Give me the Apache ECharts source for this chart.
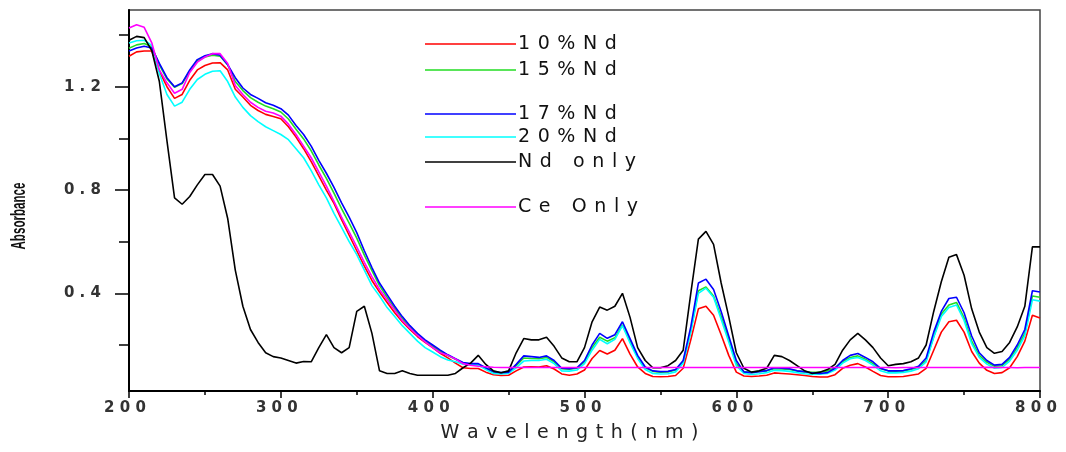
<!DOCTYPE html>
<html>
<head>
<meta charset="utf-8">
<script src="https://cdn.jsdelivr.net/npm/echarts@6/dist/echarts.min.js"></script>
<style>html,body{margin:0;padding:0;background:#fff}#c{width:1066px;height:452px}</style>
</head>
<body>
<div id="c"></div>
<script>
// Wavelength grid (nm)
const wavelengths = [
  200,205,210,215,220,225,230,235,240,245,
  250,255,260,265,270,275,280,285,290,295,
  300,305,310,315,320,325,330,335,340,345,
  350,355,360,365,370,375,380,385,390,395,
  400,405,410,415,420,425,430,435,440,445,
  450,455,460,465,470,475,480,485,490,495,
  500,505,510,515,520,525,530,535,540,545,
  550,555,560,565,570,575,580,585,590,595,
  600,605,610,615,620,625,630,635,640,645,
  650,655,660,665,670,675,680,685,690,695,
  700,705,710,715,720,725,730,735,740,745,
  750,755,760,765,770,775,780,785,790,795,
  800
];
// 10%Nd (red)
const nd10 = [
  1.318,1.335,1.338,1.338,1.26,1.20,1.155,1.17,1.225,1.265,
  1.282,1.292,1.293,1.265,1.19,1.16,1.128,1.108,1.093,1.085,
  1.076,1.045,1.005,0.96,0.91,0.855,0.80,0.748,0.685,0.625,
  0.565,0.505,0.45,0.405,0.365,0.325,0.29,0.26,0.233,0.21,
  0.19,0.168,0.15,0.13,0.112,0.109,0.109,0.095,0.085,0.082,
  0.083,0.10,0.115,0.116,0.115,0.12,0.107,0.088,0.083,0.088,
  0.103,0.148,0.179,0.165,0.18,0.225,0.165,0.115,0.09,0.078,
  0.077,0.078,0.082,0.11,0.22,0.34,0.35,0.315,0.24,0.16,
  0.095,0.08,0.078,0.08,0.083,0.092,0.09,0.088,0.085,0.082,
  0.078,0.076,0.076,0.085,0.11,0.122,0.128,0.115,0.098,0.082,
  0.077,0.077,0.078,0.083,0.088,0.11,0.18,0.25,0.29,0.296,
  0.25,0.175,0.13,0.102,0.09,0.093,0.112,0.155,0.215,0.315,
  0.305
];
// 15%Nd (green)
const nd15 = [
  1.349,1.362,1.367,1.355,1.285,1.23,1.198,1.212,1.26,1.30,
  1.315,1.322,1.318,1.285,1.22,1.185,1.158,1.14,1.125,1.115,
  1.102,1.075,1.035,0.998,0.952,0.897,0.845,0.788,0.728,0.672,
  0.614,0.548,0.488,0.43,0.385,0.342,0.303,0.268,0.24,0.215,
  0.195,0.176,0.159,0.145,0.13,0.126,0.125,0.11,0.096,0.092,
  0.094,0.12,0.15,0.148,0.147,0.152,0.135,0.108,0.106,0.11,
  0.135,0.19,0.23,0.215,0.228,0.278,0.215,0.155,0.112,0.098,
  0.095,0.096,0.103,0.135,0.255,0.41,0.425,0.39,0.31,0.222,
  0.128,0.096,0.094,0.098,0.10,0.108,0.107,0.105,0.10,0.096,
  0.094,0.095,0.10,0.112,0.135,0.152,0.158,0.145,0.128,0.108,
  0.10,0.099,0.10,0.105,0.114,0.14,0.232,0.32,0.355,0.365,
  0.305,0.215,0.16,0.133,0.118,0.12,0.145,0.19,0.245,0.39,
  0.385
];
// 17%Nd (blue)
const nd17 = [
  1.338,1.35,1.357,1.35,1.29,1.235,1.20,1.215,1.265,1.305,
  1.32,1.328,1.322,1.285,1.235,1.195,1.17,1.155,1.138,1.128,
  1.115,1.09,1.05,1.015,0.97,0.915,0.865,0.81,0.75,0.695,
  0.635,0.565,0.50,0.44,0.395,0.35,0.31,0.275,0.245,0.22,
  0.20,0.18,0.162,0.147,0.132,0.128,0.128,0.112,0.097,0.093,
  0.095,0.125,0.158,0.155,0.152,0.158,0.14,0.11,0.108,0.112,
  0.14,0.20,0.245,0.226,0.24,0.29,0.225,0.16,0.115,0.10,
  0.097,0.098,0.105,0.14,0.27,0.44,0.455,0.415,0.33,0.235,
  0.14,0.096,0.093,0.097,0.101,0.112,0.11,0.108,0.10,0.097,
  0.092,0.09,0.093,0.11,0.14,0.16,0.167,0.152,0.135,0.11,
  0.10,0.10,0.101,0.108,0.118,0.15,0.25,0.33,0.38,0.385,
  0.325,0.235,0.17,0.14,0.122,0.125,0.152,0.20,0.26,0.41,
  0.405
];
// 20%Nd (cyan)
const nd20 = [
  1.369,1.378,1.38,1.36,1.25,1.17,1.125,1.14,1.19,1.228,
  1.248,1.26,1.262,1.22,1.16,1.12,1.088,1.065,1.045,1.03,
  1.015,0.995,0.96,0.925,0.875,0.82,0.77,0.71,0.655,0.60,
  0.55,0.49,0.43,0.39,0.345,0.31,0.275,0.245,0.215,0.19,
  0.173,0.155,0.142,0.135,0.126,0.124,0.122,0.105,0.09,0.088,
  0.09,0.112,0.138,0.14,0.14,0.145,0.128,0.10,0.099,0.103,
  0.128,0.18,0.222,0.205,0.222,0.275,0.208,0.148,0.105,0.09,
  0.088,0.089,0.096,0.13,0.25,0.40,0.42,0.385,0.30,0.212,
  0.12,0.09,0.086,0.089,0.093,0.102,0.101,0.098,0.093,0.089,
  0.086,0.087,0.09,0.103,0.13,0.147,0.152,0.14,0.122,0.10,
  0.092,0.092,0.094,0.099,0.108,0.135,0.23,0.31,0.345,0.355,
  0.295,0.205,0.152,0.126,0.11,0.113,0.138,0.18,0.235,0.375,
  0.37
];
// Nd only (black)
const ndOnly = [
  1.38,1.395,1.39,1.34,1.22,0.99,0.77,0.745,0.775,0.82,
  0.86,0.86,0.815,0.69,0.49,0.35,0.26,0.21,0.17,0.155,
  0.15,0.14,0.13,0.136,0.135,0.19,0.24,0.19,0.17,0.19,
  0.33,0.35,0.245,0.10,0.09,0.09,0.10,0.09,0.083,0.083,
  0.083,0.083,0.083,0.09,0.112,0.13,0.16,0.125,0.10,0.093,
  0.10,0.17,0.225,0.22,0.22,0.23,0.195,0.15,0.135,0.135,
  0.19,0.29,0.347,0.335,0.35,0.40,0.307,0.19,0.14,0.112,
  0.112,0.12,0.14,0.18,0.40,0.61,0.64,0.59,0.44,0.31,
  0.17,0.11,0.095,0.10,0.11,0.16,0.155,0.14,0.12,0.10,
  0.09,0.095,0.105,0.125,0.18,0.22,0.245,0.22,0.19,0.15,
  0.12,0.125,0.128,0.135,0.15,0.2,0.33,0.445,0.54,0.55,
  0.47,0.34,0.25,0.19,0.168,0.175,0.21,0.27,0.35,0.58,
  0.58
];
// Ce Only (magenta)
const ceOnly = [
  1.427,1.44,1.43,1.37,1.265,1.215,1.175,1.19,1.255,1.295,
  1.315,1.328,1.328,1.29,1.205,1.17,1.14,1.12,1.105,1.098,
  1.086,1.055,1.015,0.97,0.925,0.87,0.815,0.756,0.695,0.638,
  0.58,0.52,0.465,0.415,0.375,0.335,0.295,0.265,0.237,0.212,
  0.19,0.17,0.16,0.146,0.128,0.122,0.118,0.116,0.114,0.113,
  0.113,0.113,0.113,0.113,0.113,0.113,0.113,0.113,0.113,0.113,
  0.113,0.113,0.113,0.113,0.113,0.113,0.113,0.113,0.113,0.113,
  0.113,0.113,0.113,0.113,0.113,0.113,0.113,0.113,0.113,0.113,
  0.113,0.113,0.113,0.113,0.113,0.113,0.113,0.113,0.113,0.113,
  0.113,0.113,0.113,0.113,0.113,0.113,0.113,0.113,0.114,0.113,
  0.113,0.112,0.113,0.113,0.113,0.113,0.113,0.113,0.113,0.113,
  0.113,0.113,0.113,0.114,0.113,0.113,0.113,0.112,0.113,0.113,
  0.113
];

const seriesNames = ['10%Nd', '15%Nd', '17%Nd', '20%Nd', 'Nd only', 'Ce Only'];
const seriesValues = [nd10, nd15, nd17, nd20, ndOnly, ceOnly];
const seriesColors = ['#ff0000', '#22dd22', '#0000ff', '#00ffff', '#000000', '#ff00ff'];
const drawOrder = [1, 2, 4, 3, 5, 6];
const legendCenters = [44, 70, 114, 137, 162, 207];
const yLabelValues = [0.4, 0.8, 1.2];
const yMinorTickValues = [0.2, 0.6, 1.0, 1.4];

const spaced = (s, gap) => s.split('').join(gap);
const FONT = 'DejaVu Sans';

const chart = echarts.init(document.getElementById('c'), null, {renderer: 'canvas'});
chart.setOption({
  animation: false,
  backgroundColor: '#fff',
  grid: {
    left: 129, right: 26, top: 10, bottom: 61,
    containLabel: false, outerBoundsMode: 'none',
    show: true, borderColor: '#444', borderWidth: 1.5
  },
  legend: seriesNames.map((n, i) => ({
    data: [n], left: 425, top: legendCenters[i] - 10, padding: 0,
    icon: 'rect', itemWidth: 91, itemHeight: 1.5, itemGap: 0, selectedMode: false,
    textStyle: {fontFamily: FONT, fontSize: 19, color: '#111', lineHeight: 20, padding: [0, 0, 0, -3]},
    formatter: name => spaced(name, '\u2009\u2009')
  })),
  xAxis: {
    type: 'value', min: 200, max: 800, interval: 100,
    axisLine: {onZero: false, lineStyle: {color: '#000', width: 2}},
    axisTick: {length: 7, lineStyle: {color: '#000', width: 1.5}},
    minorTick: {show: true, splitNumber: 2, length: 4, lineStyle: {color: '#000', width: 1.5}},
    splitLine: {show: false}, minorSplitLine: {show: false},
    axisLabel: {
      formatter: v => spaced(String(v), '\u2005\u200A'),
      margin: 10, fontFamily: FONT, fontWeight: 'bold', fontSize: 15, color: '#333', padding: [0, 8, 0, 0]
    },
    name: spaced('Wavelength(nm)', '\u2009\u2009'),
    nameLocation: 'middle', nameGap: 33,
    nameTextStyle: {fontFamily: FONT, fontSize: 19, color: '#222', padding: [0, 30, 0, 0]}
  },
  yAxis: [
    {
      type: 'value', min: 0.022, max: 1.497, position: 'left',
      axisLine: {show: true, onZero: false, lineStyle: {color: '#000', width: 2}},
      axisTick: {show: true, customValues: yLabelValues, length: 14, lineStyle: {color: '#000', width: 1.5}},
      axisLabel: {
        customValues: yLabelValues,
        formatter: v => spaced(Number(v).toFixed(1), '\u2005\u200A'),
        margin: 28, fontFamily: FONT, fontWeight: 'bold', fontSize: 15, color: '#333'
      },
      splitLine: {show: false}
    },
    {
      type: 'value', min: 0.022, max: 1.497, position: 'left',
      axisLine: {show: false},
      axisTick: {show: true, customValues: yMinorTickValues, length: 10, lineStyle: {color: '#000', width: 1.5}},
      axisLabel: {show: false},
      splitLine: {show: false}
    }
  ],
  graphic: [{
    type: 'text', x: 19, y: 216, rotation: Math.PI / 2, scaleX: 0.58, scaleY: 1,
    style: {
      text: 'Absorbance', fontFamily: 'Liberation Sans', fontWeight: 'bold', fontSize: 20,
      fill: '#111', textAlign: 'center', textVerticalAlign: 'middle', align: 'center', verticalAlign: 'middle'
    }
  }],
  series: seriesNames.map((n, i) => ({
    name: n, type: 'line', yAxisIndex: 0, z: drawOrder[i],
    data: wavelengths.map((w, j) => [w, seriesValues[i][j]]),
    symbol: 'none', smooth: false,
    lineStyle: {color: seriesColors[i], width: 1.6},
    itemStyle: {color: seriesColors[i]}
  }))
});
</script>
</body>
</html>
